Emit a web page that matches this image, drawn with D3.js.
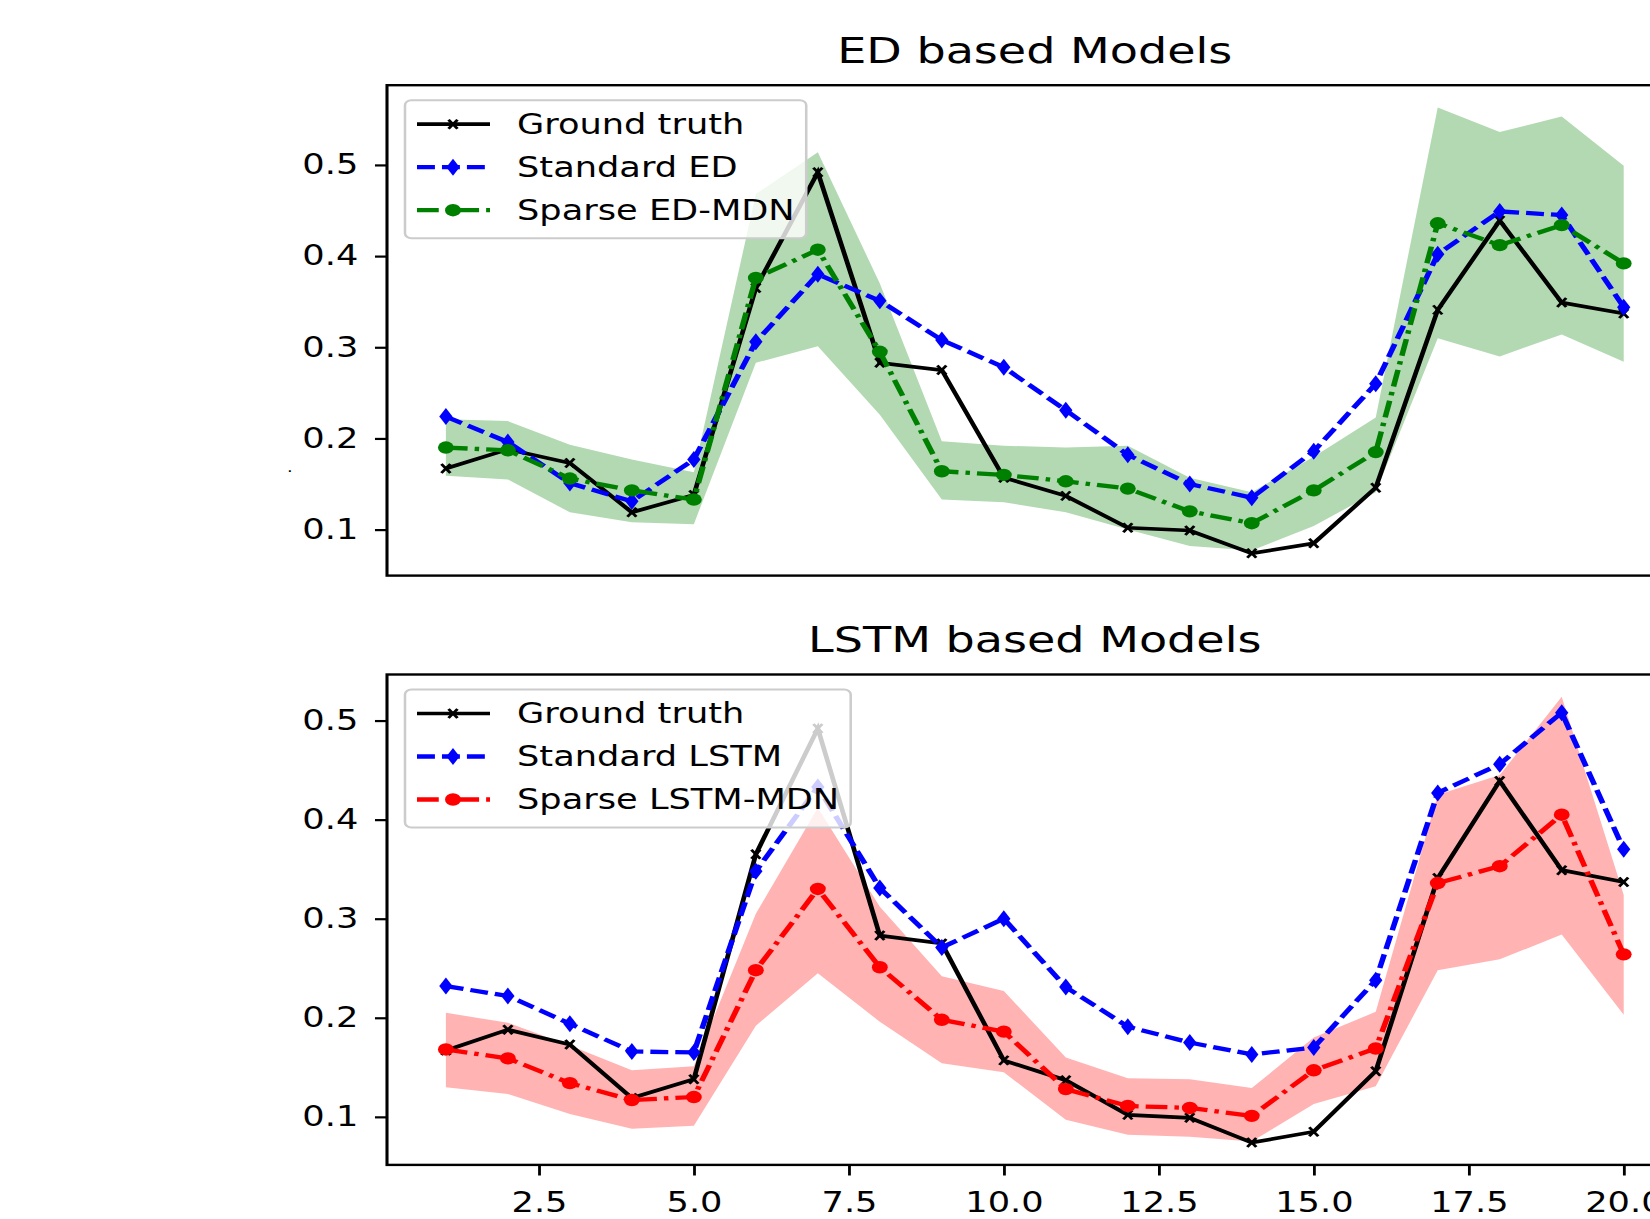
<!DOCTYPE html>
<html>
<head>
<meta charset="utf-8">
<script src="https://cdn.jsdelivr.net/npm/d3@7"></script>
<style>
  body { margin: 0; background: #fff; }
  svg { display: block; font-family: "DejaVu Sans", sans-serif; }
</style>
</head>
<body>
<div id="chart"></div>
<script>
// time steps on the x axis
const steps = [1, 2, 3, 4, 5, 6, 7, 8, 9, 10, 11, 12, 13, 14, 15, 16, 17, 18, 19, 20];
const xTicks = [2.5, 5, 7.5, 10, 12.5, 15, 17.5, 20];
const yTicks = [0.1, 0.2, 0.3, 0.4, 0.5];

const groundTruth = [0.167, 0.188, 0.173, 0.119, 0.138, 0.365, 0.492, 0.283, 0.275, 0.157,
                     0.137, 0.102, 0.099, 0.074, 0.085, 0.146, 0.341, 0.439, 0.349, 0.337];

// ED based models
const standardED = [0.224, 0.196, 0.151, 0.131, 0.177, 0.306, 0.380, 0.351, 0.308, 0.278,
                    0.231, 0.182, 0.150, 0.135, 0.186, 0.260, 0.402, 0.449, 0.445, 0.344];
const sparseED = [0.190, 0.187, 0.156, 0.143, 0.133, 0.376, 0.407, 0.295, 0.164, 0.160,
                  0.153, 0.145, 0.120, 0.107, 0.143, 0.185, 0.436, 0.412, 0.434, 0.392];
const sparseEDHigh = [0.221, 0.219, 0.193, 0.177, 0.163, 0.468, 0.514, 0.370, 0.197, 0.192,
                      0.190, 0.192, 0.157, 0.141, 0.180, 0.223, 0.563, 0.536, 0.553, 0.499];
const sparseEDLow = [0.159, 0.155, 0.119, 0.108, 0.106, 0.283, 0.301, 0.226, 0.133, 0.130,
                     0.119, 0.100, 0.082, 0.077, 0.104, 0.141, 0.310, 0.290, 0.314, 0.284];

// LSTM based models
const standardLSTM = [0.232, 0.222, 0.194, 0.166, 0.165, 0.348, 0.433, 0.331, 0.271, 0.300,
                      0.231, 0.191, 0.175, 0.163, 0.170, 0.238, 0.427, 0.456, 0.508, 0.370];
const sparseLSTM = [0.168, 0.159, 0.134, 0.117, 0.120, 0.248, 0.330, 0.251, 0.198, 0.186,
                    0.128, 0.111, 0.109, 0.101, 0.147, 0.169, 0.336, 0.353, 0.405, 0.264];
const sparseLSTMHigh = [0.205, 0.195, 0.172, 0.147, 0.151, 0.305, 0.412, 0.312, 0.242, 0.227,
                        0.160, 0.139, 0.138, 0.129, 0.180, 0.206, 0.425, 0.445, 0.524, 0.324];
const sparseLSTMLow = [0.130, 0.123, 0.103, 0.088, 0.091, 0.192, 0.245, 0.196, 0.154, 0.145,
                       0.097, 0.082, 0.080, 0.075, 0.113, 0.131, 0.248, 0.259, 0.284, 0.203];

const W = 1650, H = 1219;
const SX = 1.28; // the original figure is stretched sideways, so is everything here

const svg = d3.select("#chart").append("svg")
  .attr("width", W)
  .attr("height", H);

const fig = svg.append("g").attr("transform", `scale(${SX},1)`);

// matplotlib style 5% margins
function padExtent(values) {
  const [lo, hi] = d3.extent(values);
  const m = (hi - lo) * 0.05;
  return [lo - m, hi + m];
}

const plotLeft = 387 / SX, plotRight = 1682.6 / SX;
const x = d3.scaleLinear().domain(padExtent(steps)).range([plotLeft, plotRight]);

const markers = {
  cross: "M-3.5,-4.5L3.5,4.5M-3.5,4.5L3.5,-4.5",
  diamond: "M0,-8.5L5.2,0L0,8.5L-5.2,0Z"
};

function drawMarker(sel, kind, color) {
  if (kind === "circle") {
    sel.append("circle").attr("r", 6.2).attr("fill", color);
  } else if (kind === "cross") {
    sel.append("path").attr("d", markers.cross)
      .attr("stroke", color).attr("stroke-width", 2.4).attr("fill", "none");
  } else {
    sel.append("path").attr("d", markers.diamond).attr("fill", color);
  }
}

function drawPanel(opt) {
  const g = fig.append("g");
  const top = opt.top, bottom = opt.top + 490.4;

  const all = [].concat(groundTruth, opt.standard, opt.sparse, opt.low, opt.high);
  const y = d3.scaleLinear().domain(padExtent(all)).range([bottom, top]);

  // uncertainty band
  const area = d3.area()
    .x((d, i) => x(steps[i]))
    .y0((d, i) => y(opt.low[i]))
    .y1((d, i) => y(opt.high[i]));
  g.append("path")
    .datum(opt.low)
    .attr("d", area)
    .attr("fill", opt.bandColor);

  const series = [
    { label: "Ground truth", values: groundTruth, color: "#000", width: 3.7, dash: null, marker: "cross" },
    { label: opt.standardLabel, values: opt.standard, color: "#0000ff", width: 4.3, dash: "14,5.5", marker: "diamond" },
    { label: opt.sparseLabel, values: opt.sparse, color: opt.color, width: 4.3, dash: "17,5.5,3.5,5.5", marker: "circle" }
  ];

  const line = d3.line().x((d, i) => x(steps[i])).y(d => y(d));

  series.forEach(s => {
    g.append("path")
      .datum(s.values)
      .attr("d", line)
      .attr("fill", "none")
      .attr("stroke", s.color)
      .attr("stroke-width", s.width)
      .attr("stroke-dasharray", s.dash);
    g.selectAll(null)
      .data(s.values)
      .join("g")
      .attr("transform", (d, i) => `translate(${x(steps[i])},${y(d)})`)
      .each(function() { drawMarker(d3.select(this), s.marker, s.color); });
  });

  // axes
  const yAxis = g.append("g")
    .attr("transform", `translate(${plotLeft},0)`)
    .call(d3.axisLeft(y).tickValues(yTicks).tickFormat(d3.format(".1f")).tickSize(9.4).tickPadding(13));
  yAxis.select(".domain").remove();
  yAxis.selectAll("line").attr("stroke", "#000").attr("stroke-width", 2.2);
  yAxis.selectAll("text").attr("font-size", 27.5).attr("fill", "#000")
    .attr("font-family", "DejaVu Sans");

  if (opt.showX) {
    const xAxis = g.append("g")
      .attr("transform", `translate(0,${bottom})`)
      .call(d3.axisBottom(x).tickValues(xTicks).tickFormat(d3.format(".1f")).tickSize(10.6).tickPadding(16.7));
    xAxis.select(".domain").remove();
    xAxis.selectAll("line").attr("stroke", "#000").attr("stroke-width", 2.2);
    xAxis.selectAll("text").attr("font-size", 27.5).attr("fill", "#000")
      .attr("font-family", "DejaVu Sans");
  }

  // frame
  g.append("rect")
    .attr("x", plotLeft).attr("y", top)
    .attr("width", plotRight - plotLeft).attr("height", bottom - top)
    .attr("fill", "none").attr("stroke", "#000").attr("stroke-width", 2.4);

  // title
  g.append("text")
    .attr("x", (plotLeft + plotRight) / 2)
    .attr("y", top - 22)
    .attr("text-anchor", "middle")
    .attr("font-size", 36)
    .text(opt.title);

  // legend
  const leg = g.append("g");
  const boxX = 405 / SX, boxY = top + 15, textX = 517 / SX;
  const frame = leg.append("rect")
    .attr("x", boxX).attr("y", boxY)
    .attr("height", 138).attr("rx", 5)
    .attr("fill", "#fff").attr("fill-opacity", 0.8)
    .attr("stroke", "#cccccc").attr("stroke-width", 2);
  let maxW = 0;
  series.forEach((s, i) => {
    const ry = top + 39 + i * 43;
    leg.append("line")
      .attr("x1", 417 / SX).attr("x2", 490 / SX)
      .attr("y1", ry).attr("y2", ry)
      .attr("stroke", s.color)
      .attr("stroke-width", s.width)
      .attr("stroke-dasharray", s.dash);
    drawMarker(leg.append("g").attr("transform", `translate(${453 / SX},${ry})`), s.marker, s.color);
    const t = leg.append("text")
      .attr("x", textX).attr("y", ry + 10)
      .attr("font-size", 27.5)
      .text(s.label);
    maxW = Math.max(maxW, t.node().getComputedTextLength());
  });
  frame.attr("width", textX + maxW + 9 - boxX);
}

drawPanel({
  top: 85.2, title: "ED based Models",
  standard: standardED, sparse: sparseED, low: sparseEDLow, high: sparseEDHigh,
  standardLabel: "Standard ED", sparseLabel: "Sparse ED-MDN",
  color: "#008000", bandColor: "#b3d9b3", showX: false
});

drawPanel({
  top: 674.5, title: "LSTM based Models",
  standard: standardLSTM, sparse: sparseLSTM, low: sparseLSTMLow, high: sparseLSTMHigh,
  standardLabel: "Standard LSTM", sparseLabel: "Sparse LSTM-MDN",
  color: "#ff0000", bandColor: "#ffb3b3", showX: true
});

// stray dot left of the top panel
fig.append("text")
  .attr("x", 287 / SX).attr("y", 472)
  .attr("font-size", 14)
  .text(".");
</script>
</body>
</html>
